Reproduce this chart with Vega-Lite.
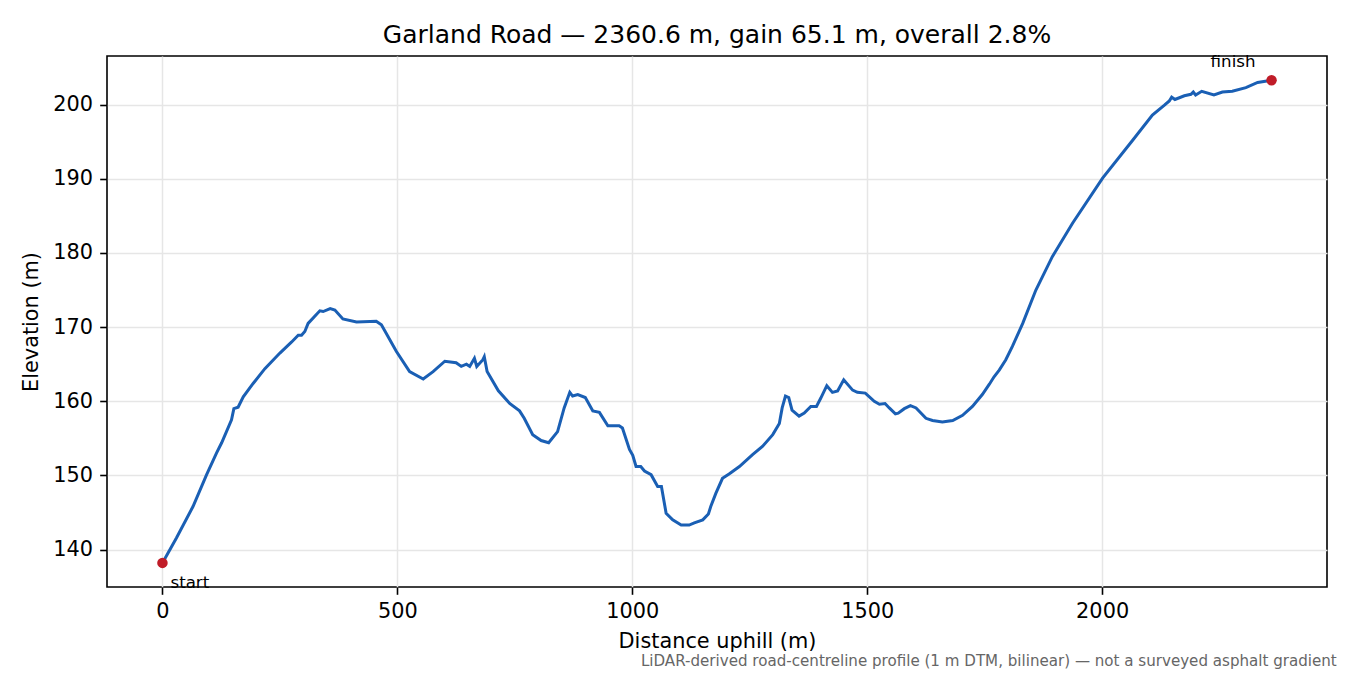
{
  "$schema": "https://vega.github.io/schema/vega-lite/v6.json",
  "autosize": {"type": "pad"},
  "padding": {"left": 19, "top": 22, "right": 5, "bottom": 5},
  "background": "white",
  "title": {
    "text": "LiDAR-derived road-centreline profile (1 m DTM, bilinear) — not a surveyed asphalt gradient",
    "orient": "bottom",
    "anchor": "end",
    "fontSize": 15.1,
    "font": "DejaVu Sans",
    "fontWeight": "normal",
    "color": "#666666",
    "offset": 2,
    "dx": 9
  },
  "datasets": {
    "profile": [
      {"dist": 0, "elev": 138.2}, {"dist": 30, "elev": 141.6}, {"dist": 65, "elev": 145.8},
      {"dist": 94, "elev": 150.1}, {"dist": 115, "elev": 153.0}, {"dist": 126, "elev": 154.4},
      {"dist": 147, "elev": 157.5}, {"dist": 152, "elev": 159.0}, {"dist": 161, "elev": 159.2},
      {"dist": 172, "elev": 160.6}, {"dist": 193, "elev": 162.4}, {"dist": 218, "elev": 164.4},
      {"dist": 250, "elev": 166.5}, {"dist": 275, "elev": 168.0}, {"dist": 289, "elev": 168.9},
      {"dist": 296, "elev": 168.9}, {"dist": 303, "elev": 169.4}, {"dist": 310, "elev": 170.5},
      {"dist": 335, "elev": 172.2}, {"dist": 342, "elev": 172.1}, {"dist": 357, "elev": 172.5},
      {"dist": 367, "elev": 172.3}, {"dist": 384, "elev": 171.1}, {"dist": 413, "elev": 170.7},
      {"dist": 455, "elev": 170.8}, {"dist": 466, "elev": 170.3}, {"dist": 498, "elev": 166.7},
      {"dist": 526, "elev": 164.0}, {"dist": 555, "elev": 163.0}, {"dist": 576, "elev": 164.0},
      {"dist": 601, "elev": 165.4}, {"dist": 625, "elev": 165.2}, {"dist": 636, "elev": 164.7},
      {"dist": 647, "elev": 165.0}, {"dist": 654, "elev": 164.7}, {"dist": 664, "elev": 165.8},
      {"dist": 669, "elev": 164.7}, {"dist": 682, "elev": 165.6}, {"dist": 685, "elev": 166.0},
      {"dist": 691, "elev": 164.0}, {"dist": 715, "elev": 161.4}, {"dist": 739, "elev": 159.7},
      {"dist": 760, "elev": 158.7}, {"dist": 770, "elev": 157.7}, {"dist": 788, "elev": 155.5},
      {"dist": 806, "elev": 154.7}, {"dist": 822, "elev": 154.4}, {"dist": 841, "elev": 155.9},
      {"dist": 855, "elev": 159.1}, {"dist": 867, "elev": 161.2}, {"dist": 873, "elev": 160.7},
      {"dist": 884, "elev": 160.9}, {"dist": 900, "elev": 160.5}, {"dist": 916, "elev": 158.7},
      {"dist": 930, "elev": 158.5}, {"dist": 948, "elev": 156.7}, {"dist": 962, "elev": 156.7},
      {"dist": 972, "elev": 156.7}, {"dist": 979, "elev": 156.4}, {"dist": 994, "elev": 153.5},
      {"dist": 1001, "elev": 152.7}, {"dist": 1008, "elev": 151.2}, {"dist": 1018, "elev": 151.2},
      {"dist": 1026, "elev": 150.6}, {"dist": 1040, "elev": 150.1}, {"dist": 1054, "elev": 148.5},
      {"dist": 1062, "elev": 148.5}, {"dist": 1072, "elev": 144.9}, {"dist": 1086, "elev": 144.0},
      {"dist": 1104, "elev": 143.3}, {"dist": 1121, "elev": 143.3}, {"dist": 1132, "elev": 143.6},
      {"dist": 1150, "elev": 144.0}, {"dist": 1162, "elev": 144.8}, {"dist": 1167, "elev": 145.8},
      {"dist": 1178, "elev": 147.6}, {"dist": 1192, "elev": 149.6}, {"dist": 1206, "elev": 150.2},
      {"dist": 1228, "elev": 151.2}, {"dist": 1256, "elev": 152.8}, {"dist": 1277, "elev": 153.9},
      {"dist": 1299, "elev": 155.5}, {"dist": 1313, "elev": 157.0}, {"dist": 1319, "elev": 159.1},
      {"dist": 1326, "elev": 160.7}, {"dist": 1333, "elev": 160.5}, {"dist": 1340, "elev": 158.8},
      {"dist": 1355, "elev": 158.0}, {"dist": 1366, "elev": 158.4}, {"dist": 1380, "elev": 159.3},
      {"dist": 1392, "elev": 159.3}, {"dist": 1401, "elev": 160.4}, {"dist": 1414, "elev": 162.1},
      {"dist": 1426, "elev": 161.2}, {"dist": 1437, "elev": 161.4}, {"dist": 1450, "elev": 162.9},
      {"dist": 1469, "elev": 161.5}, {"dist": 1479, "elev": 161.2}, {"dist": 1496, "elev": 161.1},
      {"dist": 1515, "elev": 160.0}, {"dist": 1526, "elev": 159.6}, {"dist": 1538, "elev": 159.7},
      {"dist": 1547, "elev": 159.1}, {"dist": 1560, "elev": 158.3}, {"dist": 1566, "elev": 158.4},
      {"dist": 1579, "elev": 159.0}, {"dist": 1592, "elev": 159.4}, {"dist": 1604, "elev": 159.1},
      {"dist": 1625, "elev": 157.7}, {"dist": 1639, "elev": 157.4}, {"dist": 1660, "elev": 157.2},
      {"dist": 1682, "elev": 157.4}, {"dist": 1703, "elev": 158.1}, {"dist": 1724, "elev": 159.3},
      {"dist": 1745, "elev": 160.9}, {"dist": 1760, "elev": 162.3}, {"dist": 1770, "elev": 163.3},
      {"dist": 1781, "elev": 164.2}, {"dist": 1795, "elev": 165.6}, {"dist": 1809, "elev": 167.4},
      {"dist": 1831, "elev": 170.5}, {"dist": 1859, "elev": 175.0}, {"dist": 1894, "elev": 179.5},
      {"dist": 1937, "elev": 184.0}, {"dist": 2001, "elev": 190.1}, {"dist": 2065, "elev": 195.2},
      {"dist": 2107, "elev": 198.6}, {"dist": 2132, "elev": 199.9}, {"dist": 2143, "elev": 200.5},
      {"dist": 2148, "elev": 201.0}, {"dist": 2155, "elev": 200.7}, {"dist": 2175, "elev": 201.2},
      {"dist": 2189, "elev": 201.4}, {"dist": 2194, "elev": 201.7}, {"dist": 2199, "elev": 201.3},
      {"dist": 2212, "elev": 201.8}, {"dist": 2238, "elev": 201.3}, {"dist": 2256, "elev": 201.7},
      {"dist": 2277, "elev": 201.8}, {"dist": 2306, "elev": 202.3}, {"dist": 2331, "elev": 203.0},
      {"dist": 2360.6, "elev": 203.3}
    ],
    "ends": [
      {"dist": 0, "elev": 138.2, "label": "start"},
      {"dist": 2360.6, "elev": 203.3, "label": "finish"}
    ]
  },
  "vconcat": [
    {
      "title": {
        "text": "Garland Road — 2360.6 m, gain 65.1 m, overall 2.8%",
        "anchor": "middle",
        "frame": "group",
        "fontSize": 25,
        "font": "DejaVu Sans",
        "fontWeight": "normal",
        "color": "black",
        "offset": 6
      },
      "width": 1220,
      "height": 531,
      "encoding": {
        "x": {
          "field": "dist",
          "type": "quantitative",
          "title": "Distance uphill (m)",
          "scale": {"domain": [-118.03, 2478.63], "nice": false, "zero": false},
          "axis": {"values": [0, 500, 1000, 1500, 2000], "format": "d", "titlePadding": 10}
        },
        "y": {
          "field": "elev",
          "type": "quantitative",
          "title": "Elevation (m)",
          "scale": {"domain": [134.95, 206.56], "nice": false, "zero": false},
          "axis": {"values": [140, 150, 160, 170, 180, 190, 200], "format": "d", "titlePadding": 11}
        }
      },
      "layer": [
        {
          "data": {"name": "profile"},
          "mark": {"type": "line", "color": "#1a5fb4", "strokeWidth": 3, "clip": true}
        },
        {
          "data": {"name": "ends"},
          "mark": {"type": "point", "filled": true, "color": "#c01c28", "size": 110, "opacity": 1}
        },
        {
          "data": {"name": "ends"},
          "transform": [{"filter": "datum.label == 'start'"}],
          "mark": {"type": "text", "align": "left", "baseline": "alphabetic", "dx": 8, "dy": 25, "fontSize": 16.67, "font": "DejaVu Sans", "color": "black"},
          "encoding": {"text": {"field": "label"}}
        },
        {
          "data": {"name": "ends"},
          "transform": [{"filter": "datum.label == 'finish'"}],
          "mark": {"type": "text", "align": "right", "baseline": "alphabetic", "dx": -16, "dy": -13, "fontSize": 16.67, "font": "DejaVu Sans", "color": "black"},
          "encoding": {"text": {"field": "label"}}
        }
      ]
    }
  ],
  "config": {
    "view": {"stroke": "black", "strokeWidth": 1.6},
    "axis": {
      "labelFont": "DejaVu Sans",
      "titleFont": "DejaVu Sans",
      "labelFontSize": 20.83,
      "titleFontSize": 20.83,
      "labelColor": "black",
      "titleColor": "black",
      "titleFontWeight": "normal",
      "domain": false,
      "grid": true,
      "gridColor": "#e6e6e6",
      "gridWidth": 1.5,
      "tickColor": "black",
      "tickSize": 7.3,
      "tickWidth": 1.6,
      "labelPadding": 7.3
    }
  }
}
